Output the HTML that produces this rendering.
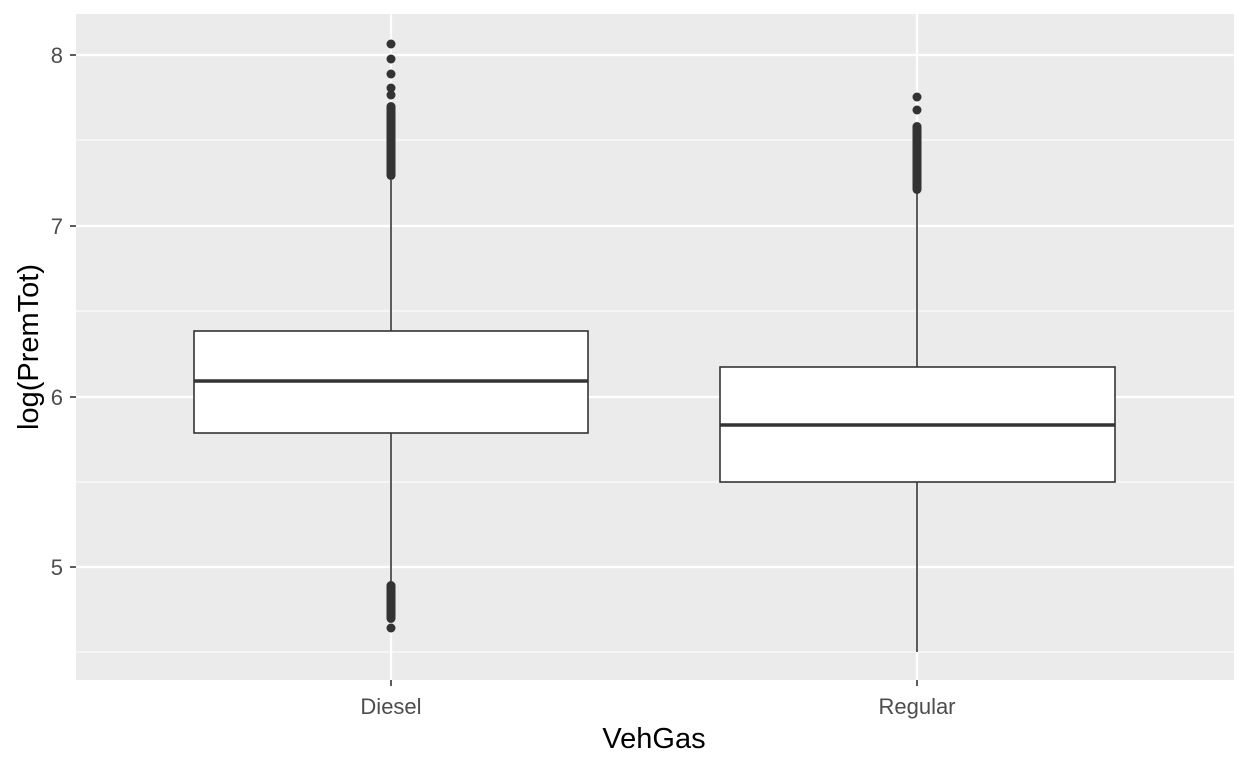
<!DOCTYPE html>
<html><head><meta charset="utf-8"><style>body{margin:0;background:#fff}svg{display:block}</style></head><body>
<svg width="1248" height="768" xmlns="http://www.w3.org/2000/svg" font-family="Liberation Sans, sans-serif">
<rect x="76" y="14" width="1158" height="666" fill="#ebebeb"/>
<g stroke="#fff" stroke-width="1.1">
<line x1="76" x2="1234" y1="140" y2="140"/><line x1="76" x2="1234" y1="311" y2="311"/><line x1="76" x2="1234" y1="482" y2="482"/><line x1="76" x2="1234" y1="652" y2="652"/>
</g>
<g stroke="#fff" stroke-width="2.2">
<line x1="76" x2="1234" y1="55" y2="55"/><line x1="76" x2="1234" y1="226" y2="226"/><line x1="76" x2="1234" y1="397" y2="397"/><line x1="76" x2="1234" y1="567" y2="567"/>
<line x1="391" x2="391" y1="14" y2="680"/><line x1="917" x2="917" y1="14" y2="680"/>
</g>
<g stroke="#333" stroke-width="1.6">
<line x1="391" x2="391" y1="180" y2="582"/><line x1="917" x2="917" y1="190" y2="652"/>
</g>
<g fill="#333">
<circle cx="391" cy="44" r="4.5"/><circle cx="391" cy="59" r="4.5"/><circle cx="391" cy="74" r="4.5"/><circle cx="391" cy="88" r="4.5"/><circle cx="391" cy="95" r="4.5"/>
<rect x="386.5" y="102" width="9" height="78" rx="4.5"/>
<rect x="386.5" y="581" width="9" height="42" rx="4.5"/><circle cx="391" cy="628" r="4.5"/>
<circle cx="917" cy="97" r="4.5"/><circle cx="917" cy="110" r="4.5"/>
<rect x="912.5" y="122" width="9" height="72" rx="4.5"/>
</g>
<rect x="194" y="331" width="394" height="102" fill="#fff" stroke="#333" stroke-width="1.6"/>
<line x1="194" x2="588" y1="381" y2="381" stroke="#333" stroke-width="3.5"/>
<rect x="720" y="367" width="395" height="115" fill="#fff" stroke="#333" stroke-width="1.6"/>
<line x1="720" x2="1115" y1="425" y2="425" stroke="#333" stroke-width="3.5"/>
<g stroke="#333" stroke-width="1.6">
<line x1="70" x2="76" y1="55" y2="55"/><line x1="70" x2="76" y1="226" y2="226"/><line x1="70" x2="76" y1="397" y2="397"/><line x1="70" x2="76" y1="567" y2="567"/>
<line x1="391" x2="391" y1="680" y2="686"/><line x1="917" x2="917" y1="680" y2="686"/>
</g>
<g fill="#4d4d4d" font-size="22" text-anchor="end">
<text x="63" y="63">8</text><text x="63" y="234">7</text><text x="63" y="405">6</text><text x="63" y="575">5</text>
</g>
<g fill="#4d4d4d" font-size="22" text-anchor="middle">
<text x="391" y="714">Diesel</text><text x="917" y="714">Regular</text>
</g>
<text x="654" y="748" font-size="29" text-anchor="middle" fill="#000">VehGas</text>
<text transform="translate(38,347) rotate(-90)" font-size="29" text-anchor="middle" fill="#000">log(PremTot)</text>
</svg>
</body></html>
